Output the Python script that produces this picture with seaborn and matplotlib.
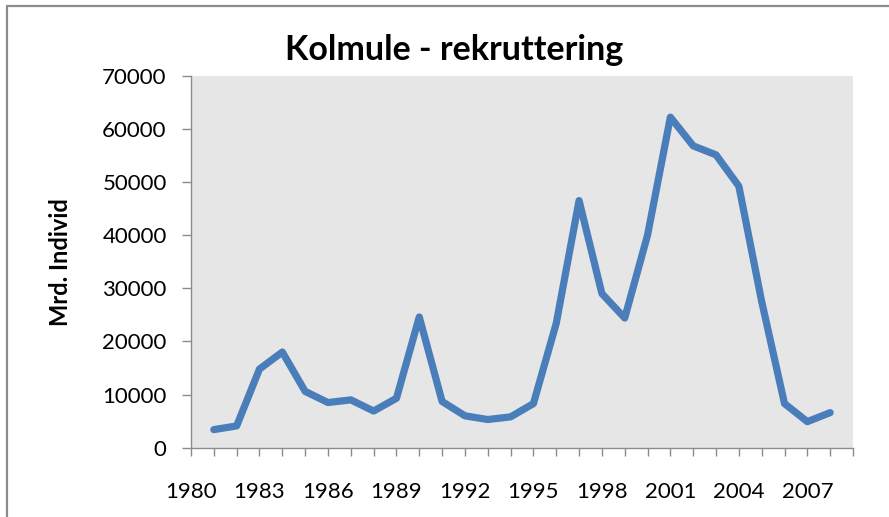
import matplotlib
matplotlib.use("Agg")
import matplotlib.pyplot as plt
from matplotlib.lines import Line2D
import seaborn as sns
import pandas as pd

# Blue whiting recruitment, billions of individuals per year class
years = [1981, 1982, 1983, 1984, 1985, 1986, 1987, 1988, 1989, 1990,
         1991, 1992, 1993, 1994, 1995, 1996, 1997, 1998, 1999, 2000,
         2001, 2002, 2003, 2004, 2005, 2006, 2007, 2008]
recruits = [3400, 4100, 14800, 18000, 10600, 8500, 9000, 6900, 9300, 24600,
            8700, 6000, 5300, 5800, 8300, 23400, 46500, 29000, 24400, 40000,
            62200, 56800, 55100, 49200, 27500, 8300, 4900, 6600]

x_ticks = list(range(1980, 2010))
x_labels = [str(y) if (y - 1980) % 3 == 0 else "" for y in x_ticks]
y_ticks = list(range(0, 70001, 10000))

title = "Kolmule - rekruttering"
y_title = "Mrd. Individ"

sns.set_theme(style="white")
plt.rcParams["font.family"] = ["Lato", "DejaVu Sans"]

df = pd.DataFrame({"year": years, "recruits": recruits})

fig = plt.figure(figsize=(8.89, 5.17), dpi=100)
fig.patch.set_facecolor("white")
ax = fig.add_axes([191 / 889, 1 - 447.7 / 517, (853 - 191) / 889, (447.7 - 75.7) / 517])
ax.set_facecolor("#E6E6E6")

sns.lineplot(data=df, x="year", y="recruits", ax=ax, color="#4A7EBB",
             linewidth=5.2, solid_joinstyle="round", solid_capstyle="round")

ax.set_xlim(1980, 2009)
ax.set_ylim(0, 70000)
ax.set_xticks(x_ticks)
ax.set_xticklabels(x_labels)
ax.set_yticks(y_ticks)
ax.set_yticklabels([str(v) for v in y_ticks])

for side in ("top", "right"):
    ax.spines[side].set_visible(False)
for side in ("left", "bottom"):
    ax.spines[side].set_color("#8C8C8C")
    ax.spines[side].set_linewidth(1.0)

ax.tick_params(axis="x", direction="out", length=6, width=1.0, color="#8C8C8C",
               pad=19, labelsize=16, labelcolor="black", bottom=True)
ax.tick_params(axis="y", direction="out", length=6.5, width=1.0, color="#8C8C8C",
               pad=11, labelsize=16, labelcolor="black", left=True)

ax.set_xlabel("")
ax.set_ylabel(y_title, fontsize=17, fontweight="bold", color="black")
ax.yaxis.set_label_coords(-0.18, 0.5)

fig.text(454 / 889, 1 - 50 / 517, title, ha="center", va="center",
         fontsize=24.5, fontweight="bold", color="black")

# outer frame edges
fig.add_artist(Line2D([7 / 889, 7 / 889], [0, 1 - 6 / 517], color="#8C8C8C", linewidth=1.6))
fig.add_artist(Line2D([7 / 889, 1], [1 - 6 / 517, 1 - 6 / 517], color="#8C8C8C", linewidth=1.6))

fig.savefig("out.png", dpi=100, facecolor="white")
